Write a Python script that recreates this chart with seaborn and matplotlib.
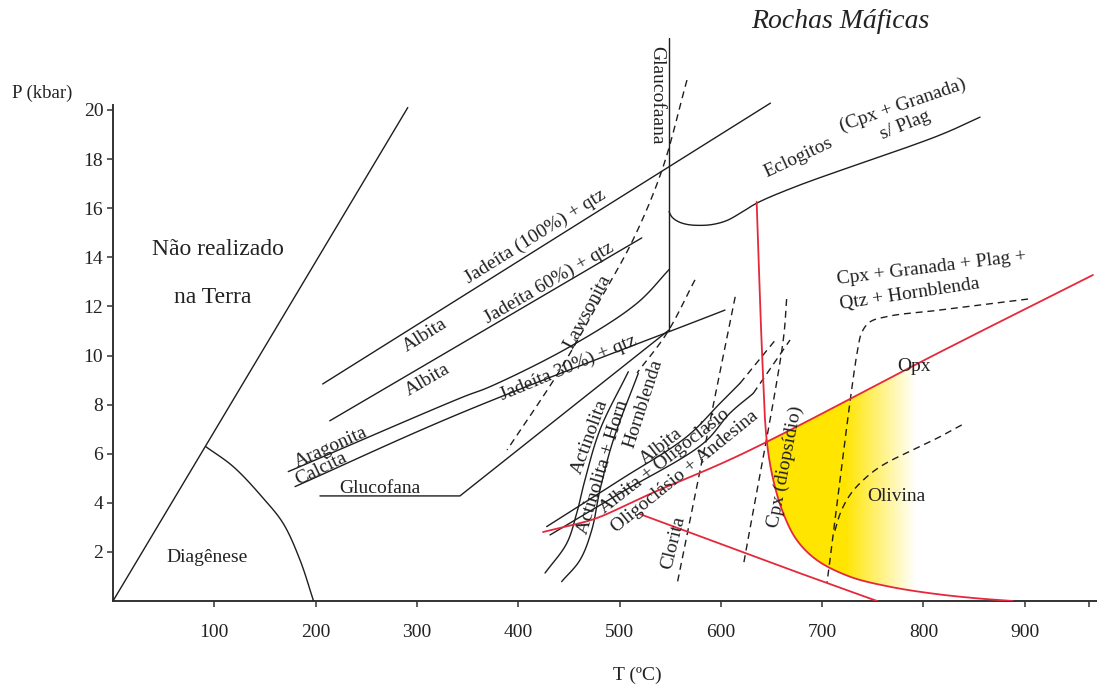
import numpy as np
import pandas as pd
import matplotlib
matplotlib.use("Agg")
import matplotlib.pyplot as plt
from matplotlib.patches import Polygon
import seaborn as sns

# ---------------- reaction curves: T (°C) and P (kbar) ----------------
limite_T = [0, 291]
limite_P = [0, 20.1]

diagenese_T = [91.5, 118.8, 148.4, 168.0, 184.6, 198.0]
diagenese_P = [6.29, 5.47, 4.18, 3.16, 1.67, 0.0]

jadeita100_T = [207, 649]
jadeita100_P = [8.84, 20.28]

jadeita60_T = [214, 522]
jadeita60_P = [7.34, 14.79]

aragonita_T = [173.0, 345.5, 372.2, 451.1, 517.3, 549.2]
aragonita_P = [5.27, 8.31, 8.73, 10.36, 12.13, 13.51]

jadeita30_T = [179.7, 342.5, 604.1]
jadeita30_P = [4.66, 7.64, 11.85]

glucofana_T = [204.3, 342.5, 548.9]
glucofana_P = [4.28, 4.28, 11.04]

glaucofana_T = [548.9, 548.9]
glaucofana_P = [22.93, 11.04]

eclogito_T = [548.9, 551.8, 557.7, 566.6, 579.5, 592.3, 606.1, 620.9, 635.7, 675.2, 816.4, 855.9]
eclogito_P = [15.86, 15.64, 15.46, 15.34, 15.30, 15.34, 15.50, 15.84, 16.21, 16.90, 18.98, 19.71]

actinolita_T = [508.7, 480.7, 465.9, 457.7, 447.9, 426.5]
actinolita_P = [9.34, 6.97, 4.93, 3.57, 2.35, 1.14]

act_horn_T = [518.6, 493.9, 480.7, 472.6, 461.0, 442.9]
act_horn_P = [9.28, 6.56, 4.52, 2.89, 1.67, 0.79]

albita_T = [428.1, 500.5, 566.3, 599.2, 619.0]
albita_P = [3.03, 4.93, 6.69, 8.05, 8.87]
albita_ext_T = [619.0, 655.2]
albita_ext_P = [8.87, 10.70]

oligoclasio_T = [431.4, 500.5, 582.7, 609.0, 632.1]
oligoclasio_P = [2.69, 4.39, 6.42, 7.65, 8.46]
oligoclasio_ext_T = [632.1, 668.3]
oligoclasio_ext_P = [8.46, 10.63]

lawsonita_T = [566.6, 542.0, 513.3, 480.7, 441.3, 389.0]
lawsonita_P = [21.22, 17.56, 14.71, 12.26, 9.41, 6.15]

hornblenda_T = [574.5, 546.9, 517.3]
hornblenda_P = [13.08, 10.92, 9.29]

clorita_T = [614.2, 557.0]
clorita_P = [12.39, 0.72]

clorita2_T = [665.0, 661.5, 622.0]
clorita2_P = [12.30, 10.59, 1.39]

opx_ol_T = [903.3, 816.4, 767.0, 747.3, 739.4, 735.4, 704.8]
opx_ol_P = [12.30, 11.85, 11.61, 11.37, 10.96, 10.31, 0.73]

olivina_T = [837.8, 817.3, 757.7, 737.9, 727.0, 718.2, 712.2]
olivina_P = [7.17, 6.71, 5.48, 4.82, 4.29, 3.60, 2.80]

opx_T = [424.5, 454.1, 477.8, 530.1, 619.0, 816.4, 967.4]
opx_P = [2.81, 3.10, 3.38, 4.36, 5.95, 10.14, 13.28]

plag_T = [520.2, 678.2, 754.2]
plag_P = [3.54, 1.13, 0.0]

cpx_T = [635.4, 641.0, 645.3, 651.8, 661.7, 674.9, 694.7, 727.5, 767.0, 811.5, 852.6, 888.0]
cpx_P = [16.26, 9.82, 6.56, 4.93, 3.57, 2.49, 1.67, 0.99, 0.58, 0.29, 0.11, 0.0]

# ---------------- field and curve labels ----------------
rotulo_texto = ["Não realizado", "na Terra", "Diagênese", "Aragonita", "Calcita",
                "Glucofana", "Albita", "Albita", "Jadeíta (100%) + qtz",
                "Jadeíta 60%) + qtz", "Jadeíta 30%) + qtz", "Lawsonita", "Glaucofaana",
                "Actinolita", "Actinolita + Horn", "Hornblenda", "Albita",
                "Albita + Oligoclásio", "Oligoclásio + Andesina", "Clorita",
                "Cpx (diopsídio)", "Olivina", "Opx", "Cpx + Granada + Plag +",
                "Qtz + Hornblenda", "Eclogitos", "(Cpx + Granada)", "s/ Plag"]
rotulo_T = [103.7, 98.7, 92.8, 215.2, 205.3, 263.6, 308.0, 311.0, 416.6, 430.4, 449.2,
            468.0, 537.0, 470.9, 483.7, 523.2, 541.6, 544.9, 564.7, 552.8, 663.4, 772.9,
            790.7, 808.5, 786.8, 676.2, 779.9, 781.8]
rotulo_P = [14.30, 12.38, 1.79, 6.27, 5.38, 4.60, 10.83, 9.00, 14.83, 12.95, 9.49,
            11.77, 20.60, 6.68, 5.46, 8.02, 6.29, 5.71, 5.27, 2.36, 5.46, 4.24,
            9.57, 13.56, 12.50, 18.04, 20.20, 19.39]
rotulo_ang = [0, 0, 0, 24, 26, 0, 32, 30, 32, 30, 22.5, 62, -90, 70, 73, 72, 38, 38, 39,
              76, 79, 0, 0, 7, 8.5, 25, 19, 22]

temp_ticks = [100, 200, 300, 400, 500, 600, 700, 800, 900]
pres_ticks = [2, 4, 6, 8, 10, 12, 14, 16, 18, 20]


def tracado(T, P, suave, n=24):
    """Centripetal Catmull-Rom path through the given points (in an
    isotropic frame where 1 kbar spans about as much as 24 °C)."""
    T = np.asarray(T, float)
    P = np.asarray(P, float)
    if not suave or len(T) < 3:
        return T, P
    k = 24.2
    pts = np.column_stack([T, P * k])
    pts = np.vstack([2 * pts[0] - pts[1], pts, 2 * pts[-1] - pts[-2]])
    out = []
    for i in range(1, len(pts) - 2):
        p0, p1, p2, p3 = pts[i - 1], pts[i], pts[i + 1], pts[i + 2]
        t0 = 0.0
        t1 = t0 + np.linalg.norm(p1 - p0) ** 0.5
        t2 = t1 + np.linalg.norm(p2 - p1) ** 0.5
        t3 = t2 + np.linalg.norm(p3 - p2) ** 0.5
        t = np.linspace(t1, t2, n)[:, None]
        a1 = (t1 - t) / (t1 - t0) * p0 + (t - t0) / (t1 - t0) * p1
        a2 = (t2 - t) / (t2 - t1) * p1 + (t - t1) / (t2 - t1) * p2
        a3 = (t3 - t) / (t3 - t2) * p2 + (t - t2) / (t3 - t2) * p3
        b1 = (t2 - t) / (t2 - t0) * a1 + (t - t0) / (t2 - t0) * a2
        b2 = (t3 - t) / (t3 - t1) * a2 + (t - t1) / (t3 - t1) * a3
        c = (t2 - t) / (t2 - t1) * b1 + (t - t1) / (t2 - t1) * b2
        out.append(c if i == 1 else c[1:])
    c = np.vstack(out)
    return c[:, 0], c[:, 1] / k


# ---------------- styling ----------------
sns.set_theme(style="white")
plt.rcParams["font.family"] = ["Liberation Serif", "DejaVu Serif"]
TXT = "#222222"
BLACK = "#1e1e1e"
RED = "#e5283c"

fig = plt.figure(figsize=(10.97, 6.86), dpi=100)
ax = fig.add_axes([113 / 1097, 85 / 686, 984 / 1097, 581 / 686])

solid = dict(color=BLACK, lw=1.0)
dashed = dict(color=BLACK, lw=1.0, linestyle=(0, (5, 3.5)))
red = dict(color=RED, lw=1.3)

curvas = [
    (limite_T, limite_P, solid, False), (diagenese_T, diagenese_P, solid, True),
    (jadeita100_T, jadeita100_P, solid, False), (jadeita60_T, jadeita60_P, solid, False),
    (aragonita_T, aragonita_P, solid, True), (jadeita30_T, jadeita30_P, solid, True),
    (glucofana_T, glucofana_P, solid, False), (glaucofana_T, glaucofana_P, solid, False),
    (eclogito_T, eclogito_P, solid, True), (actinolita_T, actinolita_P, solid, True),
    (act_horn_T, act_horn_P, solid, True), (albita_T, albita_P, solid, True),
    (oligoclasio_T, oligoclasio_P, solid, True),
    (albita_ext_T, albita_ext_P, dashed, False),
    (oligoclasio_ext_T, oligoclasio_ext_P, dashed, False),
    (lawsonita_T, lawsonita_P, dashed, True), (hornblenda_T, hornblenda_P, dashed, True),
    (clorita_T, clorita_P, dashed, False), (clorita2_T, clorita2_P, dashed, True),
    (opx_ol_T, opx_ol_P, dashed, True), (olivina_T, olivina_P, dashed, True),
    (opx_T, opx_P, red, True), (plag_T, plag_P, red, False), (cpx_T, cpx_P, red, True),
]

# yellow pyroxene-hornfels field, fading out towards higher T
cT, cP = tracado(cpx_T, cpx_P, True)
oT, oP = tracado(opx_T, opx_P, True)
t_x = 645.3
p_x = np.interp(t_x, oT, oP)
t_end = 900.0
keep_c = cT > t_x
keep_o = (oT > t_x) & (oT < t_end)
verts = ([(t_x, p_x)] + list(zip(cT[keep_c], cP[keep_c])) +
         [(t_end, 0.0), (t_end, np.interp(t_end, oT, oP))] +
         list(zip(oT[keep_o][::-1], oP[keep_o][::-1])))
campo = Polygon(verts, closed=True, facecolor="none", edgecolor="none")
ax.add_patch(campo)
tt = np.linspace(t_x, t_end, 400)
alpha = np.clip((792 - tt) / (792 - 722), 0, 1)
grad = np.zeros((1, tt.size, 4))
grad[..., 0] = 1.0
grad[..., 1] = 0.90
grad[..., 2] = 0.0
grad[..., 3] = alpha
im = ax.imshow(grad, extent=[t_x, t_end, 0, 13], origin="lower", aspect="auto",
               interpolation="bilinear", zorder=1)
im.set_clip_path(campo)

for T, P, st, sv in curvas:
    x, y = tracado(T, P, sv)
    sns.lineplot(x=x, y=y, sort=False, estimator=None, ax=ax, zorder=3, **st)

for s, T, P, a in zip(rotulo_texto, rotulo_T, rotulo_P, rotulo_ang):
    fs = 17 if s in ("Não realizado", "na Terra") else 14
    ax.text(T, P, s, rotation=a, rotation_mode="anchor", ha="center", va="center",
            fontsize=fs, color=TXT, zorder=4)

ax.set_xlim(0, 984 / 1.013)
ax.set_ylim(0, 581 / 24.55)

for side in ("top", "right"):
    ax.spines[side].set_visible(False)
for side in ("left", "bottom"):
    ax.spines[side].set_color("#333333")
    ax.spines[side].set_linewidth(1.4)
ax.spines["left"].set_bounds(0, 20.2)

ax.set_xticks(temp_ticks + [963])
ax.set_xticklabels([str(t) for t in temp_ticks] + [""])
ax.set_yticks(pres_ticks)
ax.set_yticklabels([str(p) for p in pres_ticks])
ax.tick_params(axis="x", direction="out", length=4.5, width=1.1, color="#333333",
               pad=12, labelsize=14, labelcolor=TXT, bottom=True)
ax.tick_params(axis="y", direction="out", length=4.0, width=1.1, color="#333333",
               pad=3, labelsize=14, labelcolor=TXT, left=True)
ax.set_xlabel("")
ax.set_ylabel("")
ax.grid(False)

fig.text(12 / 1097, 1 - 93 / 686, "P (kbar)", ha="left", va="center", fontsize=13.5, color=TXT)
fig.text(637 / 1097, 1 - 675 / 686, "T (ºC)", ha="center", va="center", fontsize=14, color=TXT)
fig.text(840 / 1097, 1 - 22 / 686, "Rochas Máficas", ha="center", va="center",
         fontsize=20, style="italic", color=TXT)

fig.savefig("out.png", dpi=100)
